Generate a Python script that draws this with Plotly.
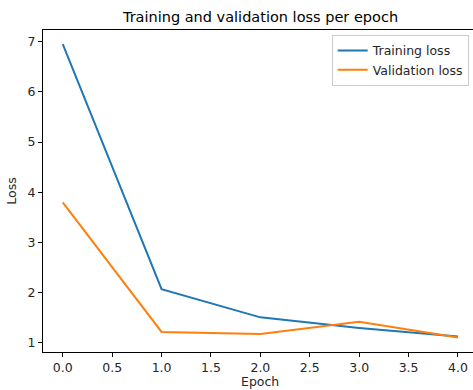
import plotly.graph_objects as go

epochs = [0, 1, 2, 3, 4]
training_loss = [6.95, 2.07, 1.51, 1.30, 1.13]
validation_loss = [3.80, 1.22, 1.18, 1.42, 1.11]
x_ticks = [0.0, 0.5, 1.0, 1.5, 2.0, 2.5, 3.0, 3.5, 4.0]
y_ticks = [1, 2, 3, 4, 5, 6, 7]

FONT = "DejaVu Sans"
PLOT_H = 390 - 30 - 38

fig = go.Figure()
fig.add_trace(go.Scatter(x=epochs, y=training_loss, mode="lines", name="Training loss",
                         line=dict(color="#1f77b4", width=2)))
fig.add_trace(go.Scatter(x=epochs, y=validation_loss, mode="lines", name="Validation loss",
                         line=dict(color="#ff7f0e", width=2)))

fig.update_layout(
    width=473, height=390,
    margin=dict(l=43, r=0, t=30, b=38),
    paper_bgcolor="white", plot_bgcolor="white",
    font=dict(family=FONT, size=12.5, color="#262626"),
    title=dict(text="Training and validation loss per epoch", x=260.5/473, xref="container",
               xanchor="center", y=1-16.5/390, yref="container", yanchor="middle",
               font=dict(family=FONT, size=14.5, color="black")),
    showlegend=True,
    legend=dict(x=0.99, y=0.985, xanchor="right", yanchor="top",
                bgcolor="rgba(255,255,255,0.8)", bordercolor="#cccccc", borderwidth=1,
                font=dict(family=FONT, size=12.5, color="#262626"),
                tracegroupgap=0, itemwidth=30),
    annotations=[dict(text="Epoch", xref="x", x=2.0, yref="paper", y=-38/PLOT_H,
                      xanchor="center", yanchor="bottom", showarrow=False, borderpad=0,
                      font=dict(family=FONT, size=12.5, color="#262626"))],
)
fig.update_xaxes(range=[-0.2, 4.152], tickvals=x_ticks, ticktext=[f"{v:.1f}" for v in x_ticks],
                 showgrid=False, zeroline=False, showline=True, linecolor="black", linewidth=1,
                 mirror=True, ticks="outside", ticklen=4, tickcolor="black", automargin=False)
fig.update_yaxes(range=[0.82, 7.23], tickvals=y_ticks, showgrid=False, zeroline=False,
                 showline=True, linecolor="black", linewidth=1, mirror=False, automargin=False,
                 ticks="outside", ticklen=4, tickcolor="black",
                 title=dict(text="Loss", standoff=8, font=dict(family=FONT, size=12.5)))

fig.write_html("out.html")
